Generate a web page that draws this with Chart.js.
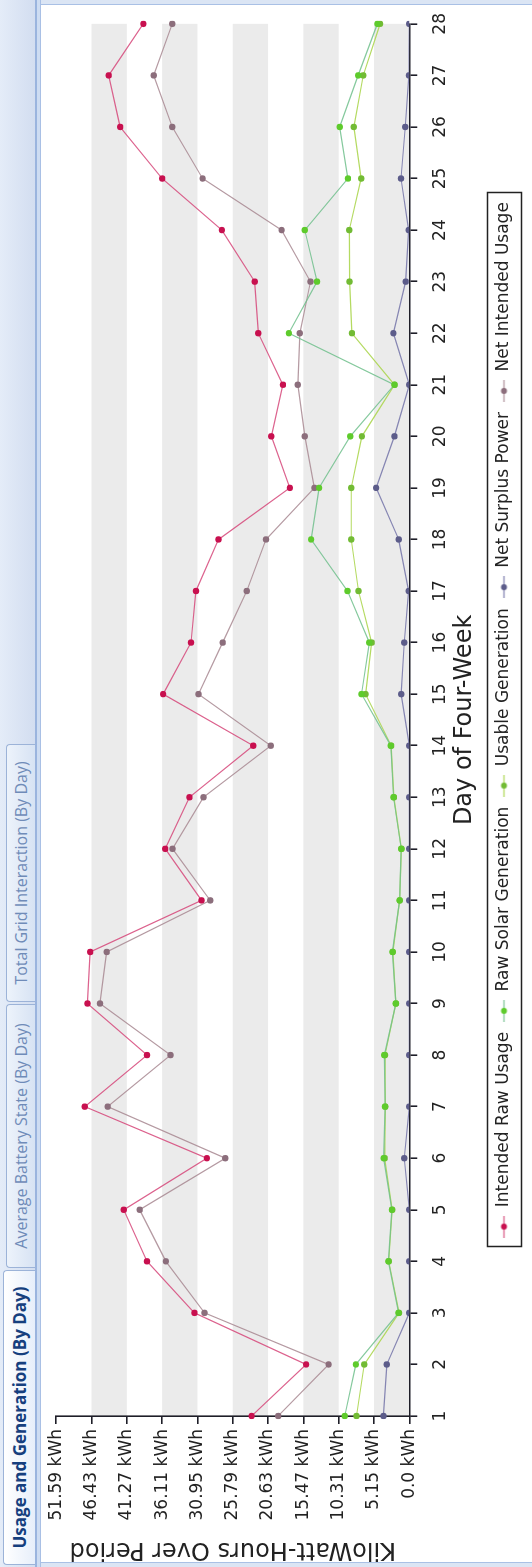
<!DOCTYPE html>
<html><head><meta charset="utf-8">
<script src="https://cdn.jsdelivr.net/npm/chart.js@4.4.1/dist/chart.umd.min.js"></script>
<style>
html,body{margin:0;padding:0;width:532px;height:1567px;overflow:hidden;background:#dbe5f4;}
#land{position:absolute;left:0;top:0;width:1567px;height:532px;transform-origin:0 0;transform:translateY(1567px) rotate(-90deg);}
#strip{position:absolute;left:0;top:0;width:1567px;height:36px;background:linear-gradient(to bottom,#e4ecf8,#d2ddf0);}
.tab{position:absolute;box-sizing:border-box;border:1px solid #9cb3d8;border-bottom:none;border-radius:4px 4px 0 0;font-family:'Open Sans',sans-serif;text-align:center;white-space:nowrap;}
#t1{left:2px;top:3px;width:295px;height:33px;background:linear-gradient(#ffffff,#e6eefa);color:#163f7e;font-weight:bold;font-size:17px;line-height:31px;}
#t2{left:299px;top:6px;width:264px;height:30px;background:linear-gradient(#edf3fb,#d6e2f3);color:#6f8bb8;font-size:16px;line-height:29px;}
#t3{left:565px;top:6px;width:258px;height:30px;background:linear-gradient(#edf3fb,#d6e2f3);color:#6f8bb8;font-size:16px;line-height:29px;}
#rule{position:absolute;left:0;top:35px;width:1567px;height:6px;box-sizing:border-box;background:#cddcf2;border-top:2px solid #9ab4de;border-bottom:1px solid #a9c0e5;}
#panel{position:absolute;left:4px;top:41px;width:1559px;height:491px;background:#fff;border-left:1px solid #a9c0e5;border-right:1px solid #a9c0e5;box-sizing:border-box;}
#c{position:absolute;left:0;top:41px;}
</style></head>
<body>
<div id="land">
  <div id="strip"></div>
  <div class="tab" id="t1">Usage and Generation (By Day)</div>
  <div class="tab" id="t2">Average Battery State (By Day)</div>
  <div class="tab" id="t3">Total Grid Interaction (By Day)</div>
  <div id="rule"></div>
  <div id="panel"></div>
  <canvas id="c" width="1567" height="491"></canvas>
</div>
<script>
const days = ['1','2','3','4','5','6','7','8','9','10','11','12','13','14','15','16','17','18','19','20','21','22','23','24','25','26','27','28'];

const intendedRawUsage = [23.04,15.08,31.40,38.32,41.71,29.58,47.41,38.32,47.02,46.63,30.36,35.67,32.13,22.80,35.97,31.89,31.17,27.87,17.45,20.16,18.47,22.06,22.59,27.39,36.11,42.25,43.93,38.86];
const rawSolarGeneration = [9.43,7.81,1.57,3.05,2.55,3.75,3.54,3.65,1.97,2.46,1.42,1.18,2.31,2.70,6.98,5.85,9.02,14.35,13.18,8.63,2.18,17.60,13.48,15.27,8.97,10.17,7.47,4.67];
const usableGeneration = [7.71,6.58,1.50,3.00,2.50,3.60,3.50,3.55,1.95,2.40,1.40,1.15,2.25,2.65,6.39,5.50,7.42,8.48,8.48,6.93,2.15,8.39,8.73,8.77,7.03,8.11,6.73,4.27];
const netSurplusPower = [3.78,3.29,0,0,0,0.74,0,0,0,0,0,0,0,0,1.18,0.74,0.10,1.55,4.85,2.18,0,2.33,0.53,0.10,1.21,0.59,0.05,0];
const netIntendedUsage = [19.16,11.79,29.92,35.57,39.40,26.88,44.07,34.88,45.20,44.22,29.09,34.59,30.07,20.24,30.81,27.27,23.75,20.94,13.86,15.27,16.29,16.00,14.44,18.66,30.20,34.64,37.34,34.64];

const yTickValues = [0,5.159,10.318,15.477,20.636,25.795,30.954,36.113,41.272,46.431,51.59];
const yTickLabels = ['0.0 kWh','5.15 kWh','10.31 kWh','15.47 kWh','20.63 kWh','25.79 kWh','30.95 kWh','36.11 kWh','41.27 kWh','46.43 kWh','51.59 kWh'];

const seriesStyle = [
  {line:'rgba(214,72,122,0.85)', dot:'#c8104f'},
  {line:'rgba(112,192,140,0.85)', dot:'#5ecb2c'},
  {line:'rgba(172,214,80,0.9)', dot:'#72bb34'},
  {line:'rgba(122,122,172,0.9)', dot:'#5c5c8a'},
  {line:'rgba(168,136,146,0.85)', dot:'#8c6e7c'}
];

function icon(s){
  const c=document.createElement('canvas'); c.width=22; c.height=9;
  const g=c.getContext('2d');
  g.strokeStyle=s.line; g.lineWidth=1.3; g.beginPath(); g.moveTo(0,4.5); g.lineTo(22,4.5); g.stroke();
  g.fillStyle=s.dot; g.beginPath(); g.arc(11,4.5,3,0,Math.PI*2); g.fill();
  return c;
}
const icons = seriesStyle.map(icon);

function ds(label, data, s){
  return {label, data, borderColor:s.line, backgroundColor:s.dot, pointBackgroundColor:s.dot,
    pointBorderWidth:0, pointRadius:3.2, pointHoverRadius:3.2, borderWidth:1.2, tension:0, fill:false};
}

const bands = {
  id:'bands',
  beforeDraw(chart){
    const {ctx, chartArea:{left,right}, scales:{y}} = chart;
    ctx.save(); ctx.fillStyle='#ebebeb';
    for(let i=0;i+1<yTickValues.length;i+=2){
      const t=y.getPixelForValue(yTickValues[i+1]), b=y.getPixelForValue(yTickValues[i]);
      ctx.fillRect(left,t,right-left,b-t);
    }
    ctx.restore();
  }
};
const legendBox = {
  id:'legendBox',
  afterDraw(chart){
    const hb = chart.legend.legendHitBoxes; if(!hb||!hb.length) return;
    const l=Math.min(...hb.map(h=>h.left)), r=Math.max(...hb.map(h=>h.left+h.width));
    const t=hb[0].top, h=hb[0].height;
    const ctx=chart.ctx; ctx.save(); ctx.strokeStyle='#222'; ctx.lineWidth=1.5;
    ctx.strokeRect(Math.round(l-9)+0.5, Math.round(t-8.5)+0.5, Math.round(r-l+18), Math.round(h+17));
    ctx.restore();
  }
};

Chart.defaults.font.family = "'DejaVu Sans', sans-serif";
new Chart(document.getElementById('c'), {
  type:'line',
  data:{ labels:days, datasets:[
    ds('Intended Raw Usage', intendedRawUsage, seriesStyle[0]),
    ds('Raw Solar Generation', rawSolarGeneration, seriesStyle[1]),
    ds('Usable Generation', usableGeneration, seriesStyle[2]),
    ds('Net Surplus Power', netSurplusPower, seriesStyle[3]),
    ds('Net Intended Usage', netIntendedUsage, seriesStyle[4])
  ]},
  options:{
    responsive:false, animation:false, devicePixelRatio:1,
    layout:{padding:{left:0,right:21,top:13.5,bottom:9.5}},
    plugins:{
      tooltip:{enabled:false},
      legend:{position:'bottom', fullSize:false,
        labels:{usePointStyle:true, pointStyleWidth:22, padding:10, color:'#222', font:{size:17},
          generateLabels(chart){
            const items = Chart.defaults.plugins.legend.labels.generateLabels(chart);
            items.forEach((it,i)=>{ it.pointStyle = icons[i]; });
            return items;
          }}}
    },
    scales:{
      x:{type:'category', offset:false,
        ticks:{font:{size:17}, color:'#222', padding:13, maxRotation:0, autoSkip:false},
        grid:{drawOnChartArea:false, tickLength:8, color:'#1e1e28', lineWidth:1.6},
        border:{color:'#1e1e28', width:1.6},
        title:{display:true, text:'Day of Four-Week', font:{size:24}, color:'#222', padding:{top:0,bottom:6}},
        afterFit(s){ s.height = 76.2; }
      },
      y:{min:0, max:51.59,
        afterBuildTicks(s){ s.ticks = yTickValues.map(v=>({value:v})); },
        ticks:{callback:(v,i)=>yTickLabels[i], font:{size:17}, color:'#222', padding:5},
        grid:{drawOnChartArea:false, tickLength:8, color:'#1e1e28', lineWidth:1.6},
        border:{color:'#1e1e28', width:1.6},
        title:{display:true, text:'KiloWatt-Hours Over Period', font:{size:24}, color:'#222', padding:{top:3,bottom:0}},
        afterFit(s){ s.width = 151; }
      }
    }
  },
  plugins:[bands, legendBox]
});
</script>
</body></html>
